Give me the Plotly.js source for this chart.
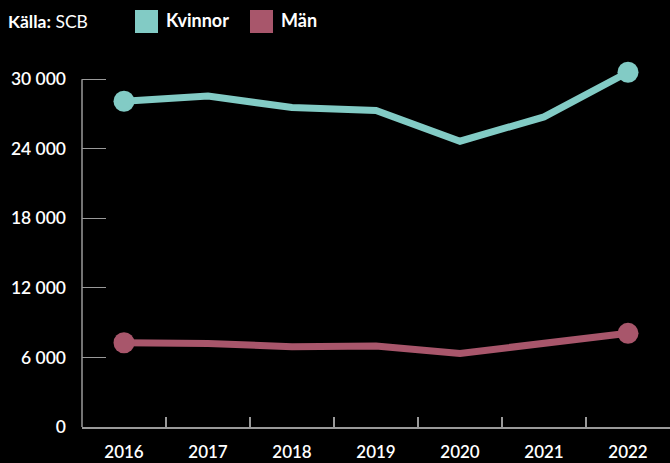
<!DOCTYPE html>
<html><head><meta charset="utf-8">
<script src="https://cdn.plot.ly/plotly-3.0.1.min.js"></script>
<style>html,body{margin:0;padding:0;background:#000;}#chart{width:670px;height:463px;}</style>
</head><body><div id="chart"></div>
<script>
const years = ['2016','2017','2018','2019','2020','2021','2022'];
const kvinnor = [28100, 28550, 27550, 27300, 24650, 26750, 30600];
const man = [7270, 7200, 6930, 6980, 6350, 7200, 8080];
const seriesNames = ['Kvinnor', 'Män'];
const seriesColors = ['#82CBC5', '#A8566B'];
const yTickVals = [0, 6000, 12000, 18000, 24000, 30000];
const yTickText = ['0', '6 000', '12 000', '18 000', '24 000', '30 000'];
const sourceText = '<b>Källa:</b> SCB';

const W = 670, H = 463, mL = 82, mR = 0, mT = 56, mB = 36;
const pw = W - mL - mR, ph = H - mT - mB;
const px = x => (x - mL) / pw;
const py = y => (H - mB - y) / ph;

const endSizes = years.map((_, i) => (i === 0 || i === years.length - 1) ? 21 : 0);
const mk = (name, vals, color) => ({
  type: 'scatter', mode: 'lines+markers', name: name, x: years, y: vals,
  line: {color: color, width: 7},
  marker: {color: color, size: endSizes, opacity: 1, line: {width: 0, color: color}},
  cliponaxis: false, showlegend: false, hoverinfo: 'skip'
});
const data = [mk(seriesNames[0], kvinnor, seriesColors[0]), mk(seriesNames[1], man, seriesColors[1])];

const fontFam = 'Lato, "Open Sans", sans-serif';
const shapes = [
  {type: 'line', xref: 'paper', yref: 'y', x0: 0, x1: 0, y0: 0, y1: 30000, line: {color: '#9a9a9a', width: 1.5}},
];
const annotations = [
  {xref: 'paper', yref: 'paper', x: px(6), y: py(21), xanchor: 'left', yanchor: 'middle', showarrow: false,
   text: sourceText, font: {family: fontFam, size: 17.5, color: '#ffffff'}}
];
const legendX = [135, 250];
seriesNames.forEach((n, i) => {
  const x0 = legendX[i];
  shapes.push({type: 'rect', xref: 'paper', yref: 'paper', x0: px(x0), x1: px(x0 + 23), y0: py(33), y1: py(10),
    fillcolor: seriesColors[i], line: {width: 0}});
  annotations.push({xref: 'paper', yref: 'paper', x: px(x0 + 29), y: py(20), xanchor: 'left', yanchor: 'middle',
    showarrow: false, text: '<b>' + n + '</b>', font: {family: fontFam, size: 18, color: '#ffffff'}});
});

const layout = {
  width: W, height: H, margin: {l: mL, r: mR, t: mT, b: mB, pad: 0},
  paper_bgcolor: '#000', plot_bgcolor: '#000', showlegend: false,
  font: {family: fontFam, color: '#ffffff', size: 17},
  xaxis: {type: 'category', range: [-0.5, 6.5], showgrid: false, zeroline: false,
    showline: true, linecolor: '#9a9a9a', linewidth: 1.5, ticks: 'inside', tickson: 'boundaries',
    ticklen: 10, tickcolor: '#9a9a9a', tickwidth: 1.2, ticklabelstandoff: 9,
    tickfont: {family: fontFam, size: 17, color: '#ffffff', weight: 600}},
  yaxis: {range: [0, 32000], showgrid: false, zeroline: false, showline: false,
    tickvals: yTickVals, ticktext: yTickText, ticks: 'inside', ticklen: 24, tickcolor: '#9a9a9a', tickwidth: 1.2,
    ticklabelstandoff: 15, tickfont: {family: fontFam, size: 17.5, color: '#ffffff', weight: 600}},
  shapes: shapes, annotations: annotations
};
Plotly.newPlot('chart', data, layout, {displayModeBar: false, staticPlot: true});
</script></body></html>
